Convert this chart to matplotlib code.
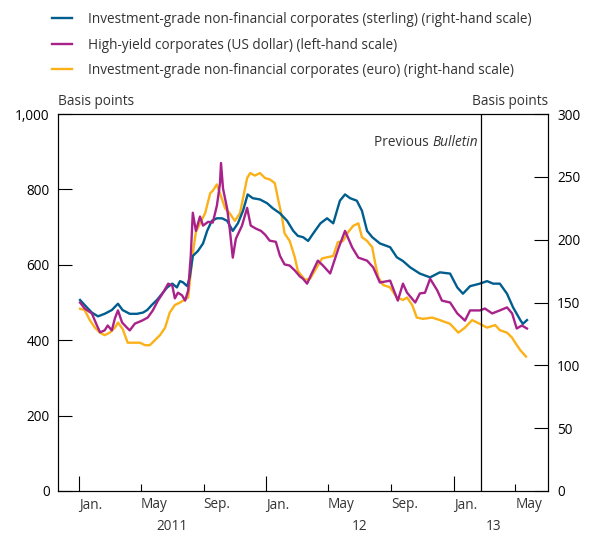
import matplotlib
matplotlib.use("Agg")
import matplotlib.pyplot as plt
import matplotlib.dates as mdates
import matplotlib.ticker as mticker
import matplotlib.transforms as mtransforms
import pandas as pd

plt.rcParams["font.family"] = ["Open Sans", "DejaVu Sans"]
plt.rcParams["font.size"] = 9.8

BLUE, MAGENTA, ORANGE = "#005e8f", "#a8228a", "#fbb117"

# investment-grade non-financial corporates, sterling (bp, right-hand scale)
gbp_dates = ["2011-01-03", "2011-01-12", "2011-01-26", "2011-02-07", "2011-02-20", "2011-03-06",
             "2011-03-18", "2011-03-27", "2011-04-10", "2011-04-24", "2011-05-06", "2011-05-14",
             "2011-05-23", "2011-06-02", "2011-06-12", "2011-06-22", "2011-07-02", "2011-07-11",
             "2011-07-17", "2011-07-23", "2011-07-31", "2011-08-05", "2011-08-11", "2011-08-21",
             "2011-08-31", "2011-09-08", "2011-09-17", "2011-09-27", "2011-10-07", "2011-10-17",
             "2011-10-28", "2011-11-07", "2011-11-17", "2011-11-26", "2011-12-06", "2011-12-20",
             "2012-01-03", "2012-01-14", "2012-01-28", "2012-02-11", "2012-02-23", "2012-03-03",
             "2012-03-13", "2012-03-23", "2012-04-02", "2012-04-16", "2012-04-29", "2012-05-11",
             "2012-05-24", "2012-06-03", "2012-06-13", "2012-06-26", "2012-07-06", "2012-07-16",
             "2012-07-26", "2012-08-10", "2012-08-30", "2012-09-12", "2012-09-24", "2012-10-08",
             "2012-10-27", "2012-11-16", "2012-12-05", "2012-12-25", "2013-01-08", "2013-01-19",
             "2013-02-02", "2013-02-21", "2013-03-07", "2013-03-19", "2013-04-01", "2013-04-15",
             "2013-04-27", "2013-05-11", "2013-05-16", "2013-05-24"]
gbp_ig = [152, 148, 142, 139, 141, 144, 149, 144, 141, 141, 142, 144,
          148, 152, 157, 162, 165, 162, 167, 166, 163, 170, 187, 191,
          197, 207, 215, 217, 217, 215, 207, 213, 223, 236, 233, 232,
          229, 225, 221, 215, 207, 203, 202, 199, 205, 213, 217, 213,
          231, 236, 233, 231, 223, 207, 202, 197, 194, 186, 183, 178,
          173, 170, 174, 173, 162, 157, 163, 165, 167, 165, 165, 157,
          146, 136, 133, 136]

# high-yield corporates, US dollar (bp, left-hand scale)
usd_dates = ["2011-01-03", "2011-01-12", "2011-01-26", "2011-02-05", "2011-02-11", "2011-02-20",
             "2011-02-26", "2011-03-06", "2011-03-12", "2011-03-18", "2011-03-26", "2011-04-04",
             "2011-04-10", "2011-04-20", "2011-05-04", "2011-05-15", "2011-05-25", "2011-06-04",
             "2011-06-14", "2011-06-24", "2011-07-02", "2011-07-07", "2011-07-13", "2011-07-21",
             "2011-07-27", "2011-08-02", "2011-08-07", "2011-08-11", "2011-08-17", "2011-08-25",
             "2011-08-31", "2011-09-10", "2011-09-19", "2011-09-27", "2011-10-03", "2011-10-05",
             "2011-10-09", "2011-10-17", "2011-10-22", "2011-10-28", "2011-11-03", "2011-11-15",
             "2011-11-25", "2011-12-02", "2011-12-12", "2011-12-22", "2011-12-30", "2012-01-08",
             "2012-01-20", "2012-01-28", "2012-02-06", "2012-02-16", "2012-02-26", "2012-03-07",
             "2012-03-13", "2012-03-21", "2012-03-30", "2012-04-11", "2012-04-21", "2012-05-05",
             "2012-05-21", "2012-06-03", "2012-06-17", "2012-06-29", "2012-07-16", "2012-07-28",
             "2012-08-10", "2012-08-30", "2012-09-14", "2012-09-24", "2012-10-02", "2012-10-18",
             "2012-10-27", "2012-11-06", "2012-11-16", "2012-11-30", "2012-12-09", "2012-12-25",
             "2013-01-08", "2013-01-23", "2013-02-02", "2013-02-21", "2013-03-03", "2013-03-17",
             "2013-04-01", "2013-04-15", "2013-04-25", "2013-05-04", "2013-05-14", "2013-05-24"]
usd_hy = [500, 484, 471, 439, 421, 426, 439, 426, 458, 479, 447, 434,
          426, 444, 452, 460, 479, 505, 526, 550, 545, 511, 526, 519,
          505, 532, 624, 738, 690, 728, 704, 714, 712, 757, 815, 870,
          802, 749, 696, 619, 669, 704, 751, 704, 696, 690, 680, 664,
          661, 624, 601, 598, 585, 569, 563, 550, 577, 611, 598, 577,
          643, 690, 646, 619, 611, 593, 553, 558, 505, 550, 526, 500,
          524, 526, 563, 532, 505, 500, 471, 452, 479, 479, 484, 471,
          479, 487, 471, 431, 439, 431]

# investment-grade non-financial corporates, euro (bp, right-hand scale)
eur_dates = ["2011-01-03", "2011-01-12", "2011-01-22", "2011-02-01", "2011-02-11", "2011-02-20",
             "2011-03-02", "2011-03-12", "2011-03-18", "2011-03-27", "2011-04-06", "2011-04-16",
             "2011-04-30", "2011-05-10", "2011-05-19", "2011-05-29", "2011-06-08", "2011-06-18",
             "2011-06-27", "2011-07-07", "2011-07-17", "2011-07-25", "2011-08-02", "2011-08-05",
             "2011-08-11", "2011-08-17", "2011-08-25", "2011-09-04", "2011-09-14", "2011-09-19",
             "2011-09-27", "2011-10-03", "2011-10-13", "2011-10-22", "2011-11-01", "2011-11-11",
             "2011-11-17", "2011-11-25", "2011-12-01", "2011-12-10", "2011-12-20", "2011-12-30",
             "2012-01-08", "2012-01-18", "2012-01-24", "2012-02-01", "2012-02-06", "2012-02-16",
             "2012-02-26", "2012-03-03", "2012-03-17", "2012-03-27", "2012-04-09", "2012-04-19",
             "2012-04-29", "2012-05-11", "2012-05-20", "2012-05-30", "2012-06-09", "2012-06-19",
             "2012-06-29", "2012-07-06", "2012-07-16", "2012-07-26", "2012-08-01", "2012-08-07",
             "2012-08-16", "2012-08-30", "2012-09-12", "2012-09-24", "2012-10-02", "2012-10-12",
             "2012-10-21", "2012-11-02", "2012-11-20", "2012-12-05", "2012-12-25", "2013-01-10",
             "2013-01-23", "2013-02-06", "2013-02-21", "2013-03-07", "2013-03-23", "2013-04-01",
             "2013-04-15", "2013-04-25", "2013-05-01", "2013-05-11", "2013-05-22"]
eur_ig = [145, 144, 136, 130, 126, 124, 126, 130, 134, 129, 118, 118,
          118, 116, 116, 120, 124, 130, 142, 148, 150, 152, 154, 166,
          189, 206, 213, 221, 237, 239, 244, 237, 225, 221, 215, 221,
          233, 249, 253, 251, 253, 249, 248, 245, 233, 218, 205, 199,
          186, 175, 168, 169, 178, 185, 186, 187, 198, 199, 206, 211,
          213, 202, 199, 194, 181, 170, 164, 162, 154, 152, 154, 148,
          138, 137, 138, 136, 133, 126, 130, 136, 133, 130, 132, 128,
          126, 122, 118, 112, 107]

legend_labels = ["Investment-grade non-financial corporates (sterling) (right-hand scale)",
                 "High-yield corporates (US dollar) (left-hand scale)",
                 "Investment-grade non-financial corporates (euro) (right-hand scale)"]
prev_bulletin = "2013-02-24"
month_ticks = ["2011-01-01", "2011-05-01", "2011-09-01", "2012-01-01", "2012-05-01",
               "2012-09-01", "2013-01-01", "2013-05-01"]
month_names = ["Jan.", "May", "Sep.", "Jan.", "May", "Sep.", "Jan.", "May"]
year_pos = ["2011-07-01", "2012-07-01", "2013-03-20"]
year_names = ["2011", "12", "13"]

fig = plt.figure(figsize=(5.9, 5.34), dpi=100)
ax = fig.add_axes([58 / 590, 1 - 491 / 534, 490 / 590, 377 / 534])
ax2 = ax.twinx()
ax.set_zorder(ax2.get_zorder() + 1)
ax.patch.set_visible(False)

lw = 1.7
l_gbp, = ax2.plot(pd.to_datetime(gbp_dates), gbp_ig, color=BLUE, lw=lw)
l_eur, = ax2.plot(pd.to_datetime(eur_dates), eur_ig, color=ORANGE, lw=lw, zorder=1)
l_usd, = ax.plot(pd.to_datetime(usd_dates), usd_hy, color=MAGENTA, lw=lw)

ax.set_xlim(pd.Timestamp("2010-11-21"), pd.Timestamp("2013-07-04"))
ax.set_ylim(0, 1000)
ax2.set_ylim(0, 300)
ax.set_yticks(range(0, 1001, 200))
ax2.set_yticks(range(0, 301, 50))
ax.yaxis.set_major_formatter(mticker.FuncFormatter(lambda v, p: f"{v:,.0f}"))
ax.tick_params(axis="y", direction="in", length=10, width=0.8, pad=6, labelsize=9.8)
ax2.tick_params(axis="y", direction="in", length=10, width=0.8, pad=6.5, labelsize=9.8)

ax.xaxis.set_major_locator(mdates.MonthLocator(bymonth=1))
ax.xaxis.set_minor_locator(mdates.MonthLocator(bymonth=[5, 9]))
ax.tick_params(axis="x", which="major", direction="in", length=10.5, width=0.8, labelbottom=False)
ax.tick_params(axis="x", which="minor", direction="in", length=5, width=0.8, labelbottom=False)
for a in (ax, ax2):
    for s in a.spines.values():
        s.set_linewidth(0.8)

ax.axvline(pd.Timestamp(prev_bulletin), color="black", lw=0.9)
t_bul = ax.text(pd.Timestamp(prev_bulletin) - pd.Timedelta(days=7), 925, "Bulletin",
                style="italic", ha="right", va="center", color="#333333")
ax.annotate("Previous ", xy=(0, 0.5), xycoords=t_bul, ha="right", va="center", color="#333333")

off = mtransforms.ScaledTranslation(0, -14 / 100, fig.dpi_scale_trans)
for d, name in zip(month_ticks, month_names):
    ax.text(pd.Timestamp(d), 0, name, transform=ax.get_xaxis_transform() + off,
            ha="left", va="center", color="#333333")
off2 = mtransforms.ScaledTranslation(0, -35 / 100, fig.dpi_scale_trans)
for d, name in zip(year_pos, year_names):
    ax.text(pd.Timestamp(d), 0, name, transform=ax.get_xaxis_transform() + off2,
            ha="center", va="center", color="#333333")

ax.text(0, 1.034, "Basis points", transform=ax.transAxes, ha="left", va="center", color="#333333")
ax.text(1, 1.034, "Basis points", transform=ax.transAxes, ha="right", va="center", color="#333333")

fig.legend([l_gbp, l_usd, l_eur], legend_labels, loc="upper left",
           bbox_to_anchor=(52 / 590, 1 - 12 / 534), frameon=False, fontsize=9.8,
           handlelength=1.5, handletextpad=1.15, labelspacing=0.78, borderpad=0,
           borderaxespad=0, labelcolor="#333333")

fig.savefig("out.png", dpi=100)
